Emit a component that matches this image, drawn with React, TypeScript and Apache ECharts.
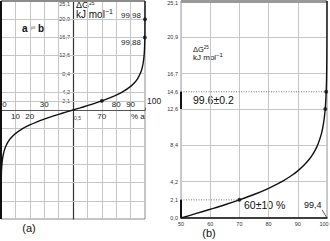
import React, { useEffect, useRef } from 'react';
import * as echarts from 'echarts';

const FONT = '"Liberation Sans", Arial, sans-serif';

// ---------- Panel (a): full curve, ΔG vs % a ----------
const pctA = [0.004, 0.02, 0.1, 0.3, 0.5, 1, 2, 3, 5, 7, 10, 15, 20, 25, 30, 35, 40, 45, 50, 55, 60, 65, 70, 75, 80, 85, 90, 93, 95, 97, 98, 99, 99.5, 99.7, 99.9, 99.98, 99.996];
const dgA = [-25.1, -21.1, -17.1, -14.4, -13.1, -11.4, -9.65, -8.62, -7.3, -6.41, -5.45, -4.3, -3.44, -2.72, -2.1, -1.53, -1.01, -0.5, 0, 0.5, 1.01, 1.53, 2.1, 2.72, 3.44, 4.3, 5.45, 6.41, 7.3, 8.62, 9.65, 11.4, 13.1, 14.4, 17.1, 21.1, 25.1];
const markPctA = [70, 99.88, 99.98];
const markDgA = [2.1, 16.7, 20.9];
const xLabelsAboveA = [0, 30, 80, 90];
const xLabelsBelowA = [10, 20, 70];
const yLabelsA = [2.1, 4.2, 8.4, 12.6, 16.7, 20.9, 25.1];
const yGridA = [2.1, 4.2, 8.4, 12.6, 16.7, 20.9, -4.2, -8.4, -12.6, -16.7, -20.9];
const leaderA = [[100, 0], [102.6, 1.9]];

// ---------- Panel (b): upper half zoom ----------
const pctB = [50, 55, 60, 65, 70, 75, 80, 85, 88, 90, 92, 94, 95, 96, 97, 98, 98.5, 99, 99.4, 99.6, 99.72, 99.85, 99.95, 99.99, 99.996];
const dgB = [0, 0.5, 1.01, 1.53, 2.1, 2.72, 3.44, 4.3, 4.94, 5.45, 6.06, 6.82, 7.3, 7.88, 8.62, 9.65, 10.37, 11.39, 12.67, 13.68, 14.56, 16.12, 18.84, 22.83, 25.1];
const markPctB = [70, 99.4, 99.72];
const markDgB = [2.1, 12.6, 14.6];
const yLabelsB = [0, 2.1, 4.2, 8.4, 12.6, 14.6, 16.7, 20.9, 25.1];
const yGridB = [4.2, 8.4, 12.6, 16.7, 20.9];
const rangeLowB = [[50, 0], [50, 2.1]];
const rangeHighB = [[50, 12.6], [50, 14.6]];
const guideLowB = [[50, 2.1], [70, 2.1]];
const guideHighB = [[50, 14.6], [100, 14.6]];
const leaderB = [[98.3, 0.95], [100, 0]];

const zip = (xs: number[], ys: number[]) => xs.map((x, i) => [x, ys[i]]);
const fmt = (v: number) => v.toFixed(1).replace('.', ',');
const GRID = '#c6c6c6';
// grid (a) is 218 px tall, its zero line sits half-way
const MID_A = -109;

function buildOption(): any {
  return {
    animation: false,
    backgroundColor: '#ffffff',
    textStyle: { fontFamily: FONT },
    grid: [
      { left: 1, top: 1, width: 144, height: 218, show: true, borderColor: '#8c8c8c', borderWidth: 1, containLabel: false, outerBoundsMode: 'none' },
      { left: 181, top: 1, width: 146, height: 217, show: true, borderColor: '#9a9a9a', borderWidth: 1, containLabel: false, outerBoundsMode: 'none' },
    ],
    xAxis: [
      {
        gridIndex: 0, type: 'value', min: 0, max: 100, interval: 10, position: 'bottom', offset: MID_A,
        axisLine: { show: true, onZero: false, lineStyle: { color: '#555', width: 1 } },
        axisTick: { show: false },
        splitLine: { show: true, lineStyle: { color: GRID, width: 1 } },
        axisLabel: {
          inside: true, margin: 2, customValues: xLabelsAboveA, fontSize: 8, color: '#222', fontFamily: FONT,
          formatter: (v: number) => (v === 0 ? '{l|0}' : String(v)),
          rich: { l: { padding: [0, 0, 0, 7], fontSize: 8, fontFamily: FONT, color: '#222' } },
        },
      },
      {
        gridIndex: 0, type: 'value', min: 0, max: 100, interval: 10, position: 'bottom', offset: MID_A,
        axisLine: { show: false, onZero: false },
        axisTick: { show: false },
        splitLine: { show: false },
        axisLabel: { margin: 2, customValues: xLabelsBelowA, fontSize: 8, color: '#222', fontFamily: FONT },
      },
      {
        gridIndex: 1, type: 'value', min: 50, max: 100, interval: 10, position: 'bottom',
        axisLine: { show: true, onZero: false, lineStyle: { color: '#111', width: 1.5 } },
        axisTick: { show: false },
        splitLine: { show: true, lineStyle: { color: GRID, width: 1 } },
        axisLabel: {
          margin: 3, fontSize: 5.5, color: '#333', fontFamily: FONT,
          formatter: (v: number) => (v === 100 ? '{r|100}' : String(v)),
          rich: { r: { padding: [0, 6, 0, 0], fontSize: 5.5, fontFamily: FONT, color: '#333' } },
        },
      },
    ],
    yAxis: [
      {
        gridIndex: 0, type: 'value', min: -25.1, max: 25.1, position: 'left', offset: -72,
        axisLine: { show: true, onZero: false, lineStyle: { color: '#333', width: 1.2 } },
        axisTick: { show: false },
        splitLine: { show: false },
        axisLabel: {
          customValues: yLabelsA, fontSize: 5.5, margin: 3, color: '#333', fontFamily: FONT,
          formatter: (v: number) => (v === 25.1 ? '{t|' + fmt(v) + '}' : fmt(v)),
          rich: { t: { padding: [6, 0, 0, 0], fontSize: 5.5, fontFamily: FONT, color: '#333' } },
        },
      },
      {
        gridIndex: 1, type: 'value', min: 0, max: 25.1, position: 'left',
        axisLine: { show: false, onZero: false },
        axisTick: { show: false },
        splitLine: { show: false },
        axisLabel: {
          customValues: yLabelsB, fontSize: 5.5, margin: 3, color: '#333', fontFamily: FONT,
          formatter: (v: number) => (v === 25.1 ? '{t|' + fmt(v) + '}' : fmt(v)),
          rich: { t: { padding: [3, 0, 0, 0], fontSize: 5.5, fontFamily: FONT, color: '#333' } },
        },
      },
    ],
    series: [
      // ----- panel (a) -----
      {
        type: 'line', xAxisIndex: 0, yAxisIndex: 0, data: [], z: 1, silent: true,
        markLine: {
          silent: true, symbol: 'none', label: { show: false }, animation: false,
          data: [
            ...yGridA.map((v) => ({ yAxis: v, lineStyle: { color: GRID, width: 1, type: 'solid' } })),
            { yAxis: 25.1, lineStyle: { color: '#8c8c8c', width: 2, type: 'solid' } },
            { xAxis: 0, lineStyle: { color: '#111', width: 2, type: 'solid' } },
          ],
        },
      },
      {
        type: 'line', xAxisIndex: 0, yAxisIndex: 0, data: zip(pctA, dgA), z: 5,
        showSymbol: false, smooth: 0.3, lineStyle: { color: '#111', width: 1.4 }, silent: true,
      },
      {
        type: 'scatter', xAxisIndex: 0, yAxisIndex: 0, data: zip(markPctA, markDgA), z: 6,
        symbolSize: 4, itemStyle: { color: '#111' }, silent: true,
      },
      {
        type: 'line', xAxisIndex: 0, yAxisIndex: 0, data: leaderA, z: 6, clip: false,
        showSymbol: false, lineStyle: { color: '#333', width: 0.8 }, silent: true,
      },
      // ----- panel (b) -----
      {
        type: 'line', xAxisIndex: 2, yAxisIndex: 1, data: [], z: 1, silent: true,
        markLine: {
          silent: true, symbol: 'none', label: { show: false }, animation: false,
          data: [
            ...yGridB.map((v) => ({ yAxis: v, lineStyle: { color: GRID, width: 1, type: 'solid' } })),
            { yAxis: 25.1, lineStyle: { color: '#999', width: 3, type: 'solid' } },
          ],
        },
      },
      {
        type: 'line', xAxisIndex: 2, yAxisIndex: 1, data: guideLowB, z: 3,
        showSymbol: false, lineStyle: { color: '#555', width: 0.8, type: [1, 1.5] }, silent: true,
      },
      {
        type: 'line', xAxisIndex: 2, yAxisIndex: 1, data: guideHighB, z: 3,
        showSymbol: false, lineStyle: { color: '#555', width: 0.8, type: [1, 1.5] }, silent: true,
      },
      {
        type: 'line', xAxisIndex: 2, yAxisIndex: 1, data: rangeLowB, z: 4, clip: false,
        showSymbol: false, lineStyle: { color: '#111', width: 2 }, silent: true,
      },
      {
        type: 'line', xAxisIndex: 2, yAxisIndex: 1, data: rangeHighB, z: 4, clip: false,
        showSymbol: false, lineStyle: { color: '#111', width: 2 }, silent: true,
      },
      {
        type: 'line', xAxisIndex: 2, yAxisIndex: 1, data: zip(pctB, dgB), z: 5,
        showSymbol: false, smooth: 0.3, lineStyle: { color: '#111', width: 1.4 }, silent: true,
      },
      {
        type: 'scatter', xAxisIndex: 2, yAxisIndex: 1, data: zip(markPctB, markDgB), z: 6,
        symbolSize: 4, itemStyle: { color: '#111' }, silent: true,
      },
      {
        type: 'line', xAxisIndex: 2, yAxisIndex: 1, data: leaderB, z: 6, clip: false,
        showSymbol: false, lineStyle: { color: '#333', width: 0.8 }, silent: true,
      },
    ],
    graphic: [
      // panel (a) annotations
      {
        type: 'text', x: 76, y: 0, silent: true,
        style: {
          text: '{a|ΔG}{s|25}', verticalAlign: 'top',
          rich: { a: { fontSize: 9, fontFamily: FONT, fill: '#111', lineHeight: 10 }, s: { fontSize: 5, fontFamily: FONT, fill: '#111', verticalAlign: 'top', lineHeight: 10 } },
        },
      },
      {
        type: 'text', x: 76, y: 8, silent: true,
        style: {
          text: '{a|kJ mol}{s|−1}', verticalAlign: 'top',
          rich: { a: { fontSize: 10, fontFamily: FONT, fill: '#111', lineHeight: 12 }, s: { fontSize: 7, fontFamily: FONT, fill: '#111', verticalAlign: 'top', lineHeight: 12 } },
        },
      },
      {
        type: 'text', x: 33, y: 28, silent: true,
        style: {
          text: '{b|a}{ar| ⇌ }{b|b}', align: 'center', verticalAlign: 'middle',
          rich: {
            b: { fontSize: 10, fontWeight: 'bold', fontFamily: FONT, fill: '#111' },
            ar: { fontSize: 7, fontFamily: '"DejaVu Sans", sans-serif', fill: '#888' },
          },
        },
      },
      { type: 'text', x: 141, y: 15, silent: true, style: { text: '99,98', fontSize: 8, fontFamily: FONT, fill: '#222', align: 'right', verticalAlign: 'middle' } },
      { type: 'text', x: 141, y: 42, silent: true, style: { text: '99,88', fontSize: 8, fontFamily: FONT, fill: '#222', align: 'right', verticalAlign: 'middle' } },
      { type: 'text', x: 147, y: 101, silent: true, style: { text: '100', fontSize: 8.5, fontFamily: FONT, fill: '#222', align: 'left', verticalAlign: 'middle' } },
      { type: 'text', x: 131, y: 116, silent: true, style: { text: '% a', fontSize: 8, fontFamily: FONT, fill: '#222', align: 'left', verticalAlign: 'middle' } },
      { type: 'text', x: 74, y: 118, silent: true, style: { text: '0,5', fontSize: 5, fontFamily: FONT, fill: '#444', align: 'left', verticalAlign: 'middle' } },
      { type: 'text', x: 29, y: 228, silent: true, style: { text: '(a)', fontSize: 11, fontFamily: FONT, fill: '#111', align: 'center', verticalAlign: 'middle' } },
      // panel (b) annotations
      {
        type: 'text', x: 193, y: 45, silent: true,
        style: {
          text: '{a|ΔG}{s|25}', verticalAlign: 'top',
          rich: { a: { fontSize: 7.5, fontFamily: FONT, fill: '#111', lineHeight: 9 }, s: { fontSize: 4.5, fontFamily: FONT, fill: '#111', verticalAlign: 'top', lineHeight: 9 } },
        },
      },
      {
        type: 'text', x: 193, y: 52, silent: true,
        style: {
          text: '{a|kJ mol}{s|−1}', verticalAlign: 'top',
          rich: { a: { fontSize: 8, fontFamily: FONT, fill: '#111', lineHeight: 10 }, s: { fontSize: 6, fontFamily: FONT, fill: '#111', verticalAlign: 'top', lineHeight: 10 } },
        },
      },
      { type: 'text', x: 193, y: 100, silent: true, style: { text: '99.6±0.2', fontSize: 10.5, fontFamily: FONT, fill: '#111', align: 'left', verticalAlign: 'middle' } },
      { type: 'text', x: 244, y: 205, silent: true, style: { text: '60±10 %', fontSize: 10.5, fontFamily: FONT, fill: '#111', align: 'left', verticalAlign: 'middle' } },
      { type: 'text', x: 304, y: 205, silent: true, style: { text: '99,4', fontSize: 9, fontFamily: FONT, fill: '#111', align: 'left', verticalAlign: 'middle' } },
      { type: 'text', x: 209, y: 233, silent: true, style: { text: '(b)', fontSize: 11, fontFamily: FONT, fill: '#111', align: 'center', verticalAlign: 'middle' } },
    ],
  };
}

export default function App() {
  const ref = useRef<HTMLDivElement>(null);
  useEffect(() => {
    if (!ref.current) return;
    const chart = echarts.init(ref.current, undefined, { renderer: 'svg' });
    chart.setOption(buildOption());
    return () => chart.dispose();
  }, []);
  return (
    <div
      ref={ref}
      style={{ position: 'absolute', left: 0, top: 0, width: 330, height: 241, background: '#fff' }}
    />
  );
}
